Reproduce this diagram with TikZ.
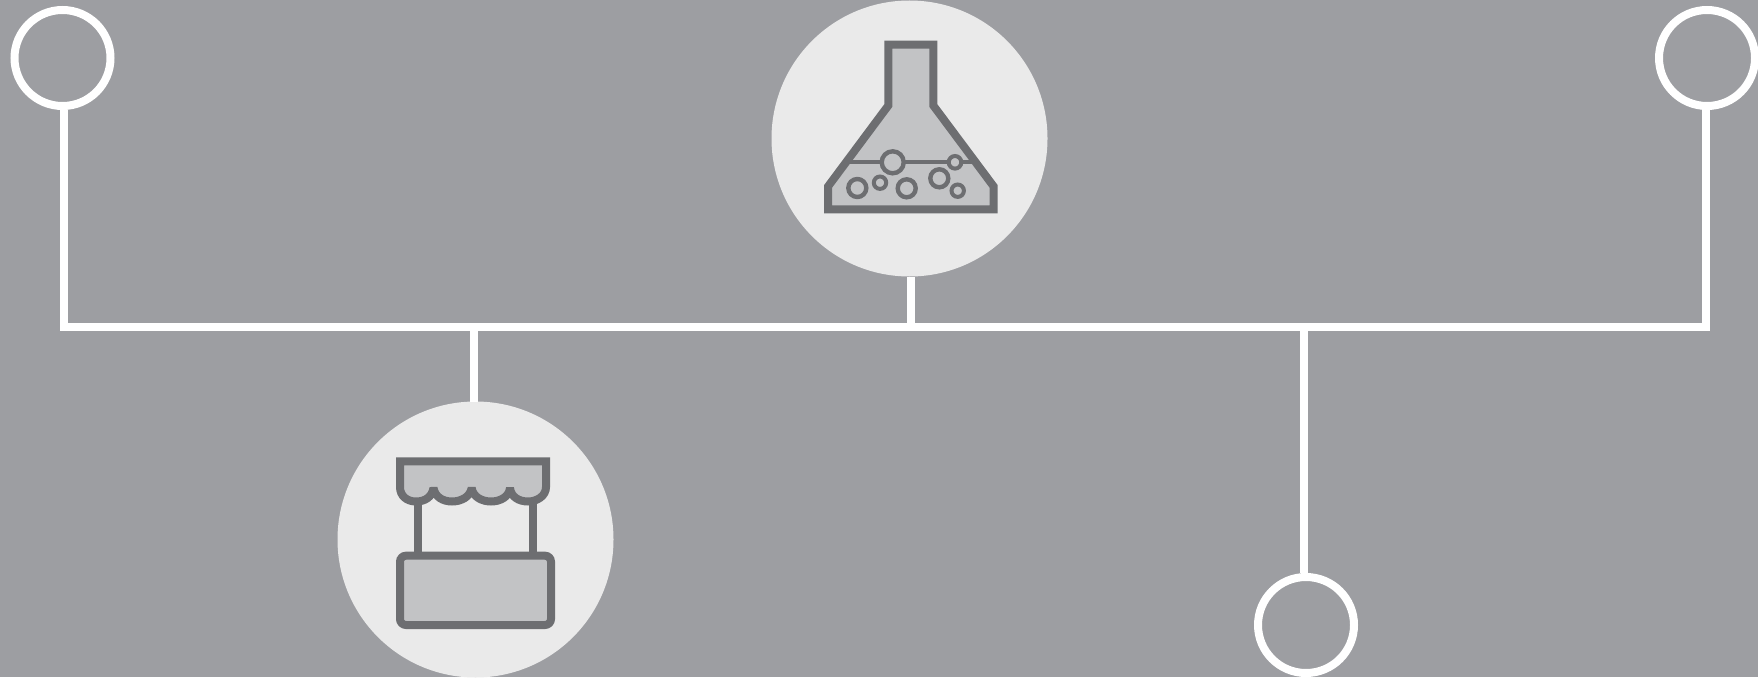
\documentclass[tikz,border=0pt]{standalone}
\definecolor{panelgrey}{HTML}{9D9EA2}
\definecolor{discgrey}{HTML}{EAEAEA}
\definecolor{fillgrey}{HTML}{C2C3C5}
\definecolor{inkgrey}{HTML}{6D6E71}
\begin{document}
\begin{tikzpicture}[x=1pt,y=-1pt,
  ring/.style={circle,draw=white,line width=8pt,minimum size=96pt,inner sep=0pt},
  disc/.style={circle,fill=discgrey,minimum size=276pt,inner sep=0pt,outer sep=0pt},
  wire/.style={draw=white,line width=8pt,line join=miter},
  ink/.style={draw=inkgrey,line width=8pt,fill=fillgrey},
  post/.style={draw=inkgrey,line width=8pt},
  bubblebig/.style={draw=inkgrey,line width=4.4pt,fill=fillgrey},
  bubblelit/.style={draw=inkgrey,line width=4pt,fill=fillgrey}]
\useasboundingbox (0,0) rectangle (1758,677);
\clip (0,0) rectangle (1758,677);
\fill[panelgrey] (0,0) rectangle (1758,677);
\node[ring] (ringA) at (62.5,58) {};
\node[ring] (ringB) at (1707,58) {};
\node[ring] (ringC) at (1306,625) {};
\node[disc] (flaskdisc) at (909.5,138.5) {};
\node[disc] (stalldisc) at (475.5,539.5) {};
\coordinate (cornerL) at (64,327);
\coordinate (cornerR) at (1705.5,327);
\coordinate (tapflask) at (911,327);
\coordinate (tapstall) at (473.5,327);
\coordinate (tapring) at (1304,327);
\draw[wire] (cornerL |- ringA.south) -- (cornerL) -- (cornerR) -- (cornerR |- ringB.south);
\draw[wire] (tapflask) -- (tapflask |- flaskdisc.south);
\draw[wire] (tapstall) -- (tapstall |- stalldisc.north);
\draw[wire] (tapring) -- (tapring |- ringC.north);
\draw[ink,line join=miter] (888.3,44.7) -- (933.3,44.7) -- (933.3,105.5) -- (993.7,186.5) -- (993.7,209.3) -- (828,209.3) -- (828,186.5) -- (888.3,105.5) -- cycle;
\coordinate (levelL) at (849,162.3);
\coordinate (levelR) at (973,162.3);
\draw[draw=inkgrey,line width=4pt] (levelL) -- (levelR);
\node[circle,bubblebig,minimum size=22pt,inner sep=0pt] (bub1) at (892.7,162.3) {};
\node[circle,bubblelit,minimum size=12.6pt,inner sep=0pt] (bub2) at (955,162.3) {};
\node[circle,bubblebig,minimum size=18pt,inner sep=0pt] (bub3) at (857.3,188) {};
\node[circle,bubblelit,minimum size=12.4pt,inner sep=0pt] (bub4) at (880,182.7) {};
\node[circle,bubblebig,minimum size=18pt,inner sep=0pt] (bub5) at (906.7,188.3) {};
\node[circle,bubblebig,minimum size=18pt,inner sep=0pt] (bub6) at (939.3,178.3) {};
\node[circle,bubblelit,minimum size=12.4pt,inner sep=0pt] (bub7) at (957.7,190.7) {};
\coordinate (postLtop) at (417.5,500);
\coordinate (postRtop) at (533,500);
\coordinate (postLfoot) at (417.5,556);
\coordinate (postRfoot) at (533,556);
\draw[post] (postLtop) -- (postLfoot);
\draw[post] (postRtop) -- (postRfoot);
\draw[ink,line join=miter,miter limit=2] (400,461.3) -- (546,461.3) -- (546,487)
  .. controls (546,496) and (537,501.5) .. (528,501.5)
  .. controls (519,501.5) and (511,497) .. (510,488)
  .. controls (509,497) and (500,501.5) .. (491,501.5)
  .. controls (482,501.5) and (473,497) .. (471.7,488)
  .. controls (470,497) and (461,501.5) .. (452,501.5)
  .. controls (443,501.5) and (435,497) .. (433.5,488)
  .. controls (432,497) and (425,501.5) .. (416,501.5)
  .. controls (407,501.5) and (400,496) .. (400,487) -- cycle;
\draw[ink,rounded corners=6pt] (400,555.7) rectangle (551,625);
\end{tikzpicture}
\end{document}
